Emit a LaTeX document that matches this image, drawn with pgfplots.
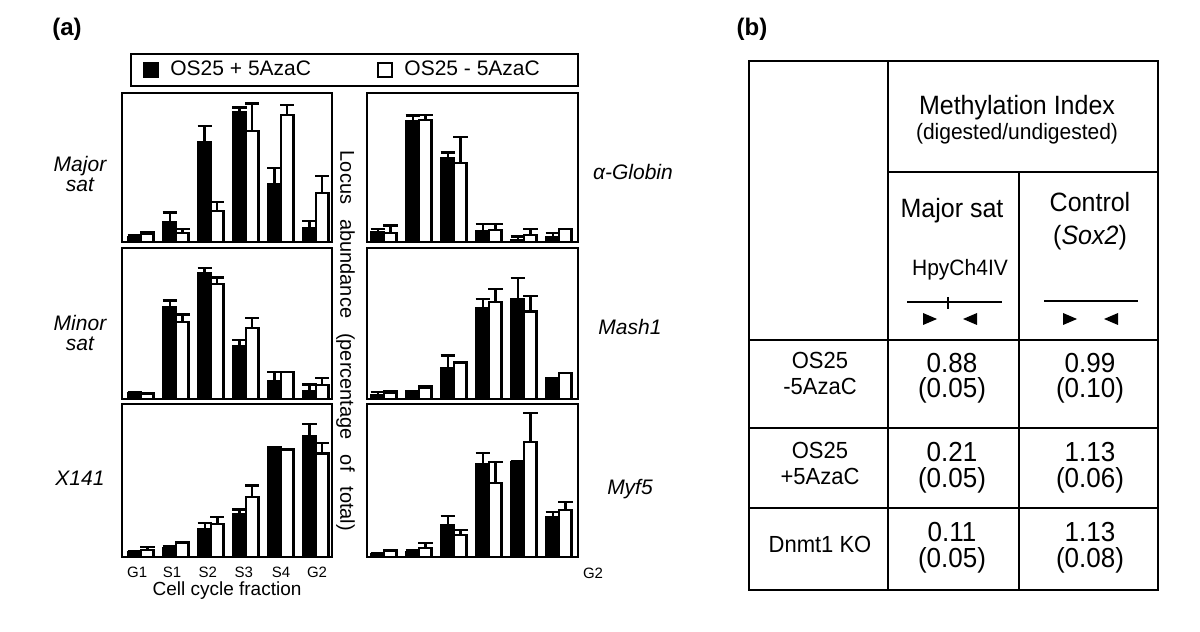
\documentclass[border=0pt]{standalone}
\usepackage{fontspec}
\setmainfont{Liberation Sans}
\usepackage{graphicx}
\usepackage{pgfplots}
\pgfplotsset{compat=1.18}
\newcommand{\fs}[1]{\fontsize{#1}{#1}\selectfont}
\newcommand{\tall}[1]{\scalebox{1}[1.06]{#1}}
\pgfplotsset{
  panel/.style={scale only axis, anchor=south west, ymin=0, xtick=\empty, ytick=\empty,
    axis line style={line width=1.4pt}, ybar, bar width=0.36, bar shift=0pt,
    error bars/y dir=plus, error bars/y explicit,
    error bars/error bar style={line width=1.2pt, black},
    error bars/error mark options={rotate=90, line width=1.2pt, mark size=3.6pt, black},
    /pgf/number format/assume math mode=true},
  leftcol/.style={panel, width=105pt, xmin=-0.543, xmax=5.457},
  rightcol/.style={panel, width=105.5pt, xmin=-0.486, xmax=5.543},
  blk/.style={fill=black, draw=black, line width=1pt},
  wht/.style={fill=white, draw=black, line width=1.2pt},
}
\begin{document}
\begin{tikzpicture}
\path[use as bounding box] (0,0) rectangle (600pt,316pt);

% ---- row 1 left: Major sat
\begin{axis}[leftcol, at={(61pt,195pt)}, height=74.5pt, ymax=149,
  legend columns=2,
  legend style={draw=none, fill=none, inner sep=0pt, font=\fs{10.5},
    at={(0.1,1.154)}, anchor=west,
    /tikz/every odd column/.append style={column sep=3.5pt},
    /tikz/every even column/.append style={column sep=31pt}},
  legend image code/.code={\draw[#1] (0pt,-3.5pt) rectangle (7pt,3.5pt);}]
\addplot[blk] coordinates {(-0.18,5) +- (0,1.5) (0.82,20) +- (0,9.5) (1.82,100) +- (0,16) (2.82,130) +- (0,4.5) (3.82,58) +- (0,16) (4.82,14) +- (0,7)};
\addlegendentry{OS25 + 5AzaC}
\addplot[wht] coordinates {(0.18,8) +- (0,2) (1.18,9) +- (0,4) (2.18,31) +- (0,9) (3.18,111) +- (0,27.5) (4.18,127) +- (0,10) (5.18,49) +- (0,17)};
\addlegendentry{OS25 - 5AzaC}
\end{axis}

% ---- row 2 left: Minor sat
\begin{axis}[leftcol, at={(61pt,116.5pt)}, height=75.5pt, ymax=151]
\addplot[blk] coordinates {(-0.18,6) +- (0,0.5) (0.82,92) +- (0,6.5) (1.82,126) +- (0,5) (2.82,53) +- (0,6) (3.82,18) +- (0,9) (4.82,8) +- (0,6.5)};
\addplot[wht] coordinates {(0.18,5) +- (0,0.5) (1.18,77) +- (0,7.5) (2.18,115) +- (0,6.5) (3.18,71) +- (0,10) (4.18,27) +- (0,0) (5.18,14) +- (0,7)};
\end{axis}

% ---- row 3 left: X141
\begin{axis}[leftcol, at={(61pt,37.5pt)}, height=76.5pt, ymax=153,
  xtick={-0.11,0.89,1.91,2.94,4,5.03}, xticklabels={G1,S1,S2,S3,S4,G2},
  major tick length=0pt, xticklabel style={font=\fs{7.5}, yshift=-1.5pt}]
\addplot[blk] coordinates {(-0.18,5) +- (0,1) (0.82,9) +- (0,2) (1.82,28) +- (0,6) (2.82,43) +- (0,4.5) (3.82,108.7) +- (0,1.5) (4.82,121.3) +- (0,11.5)};
\addplot[wht] coordinates {(0.18,7) +- (0,3) (1.18,14) +- (0,0.5) (2.18,33) +- (0,7) (3.18,60) +- (0,11.5) (4.18,107.7) +- (0,0) (5.18,103.7) +- (0,10.5)};
\end{axis}

% ---- row 1 right: alpha-Globin
\begin{axis}[rightcol, at={(183.5pt,195pt)}, height=74.5pt, ymax=149]
\addplot[blk] coordinates {(-0.18,9.7) +- (0,3) (0.82,121) +- (0,5.3) (1.82,84.3) +- (0,5) (2.82,11.3) +- (0,6.7) (3.82,2) +- (0,3.3) (4.82,5.3) +- (0,3.4)};
\addplot[wht] coordinates {(0.18,8.7) +- (0,7.6) (1.18,122) +- (0,5) (2.18,78.7) +- (0,26) (3.18,12) +- (0,5.7) (4.18,7) +- (0,6) (5.18,12.7) +- (0,0)};
\end{axis}

% ---- row 2 right: Mash1
\begin{axis}[rightcol, at={(183.5pt,116.5pt)}, height=75.5pt, ymax=151]
\addplot[blk] coordinates {(-0.18,4) +- (0,3) (0.82,8) +- (0,0) (1.82,30.7) +- (0,12.6) (2.82,90.7) +- (0,9) (3.82,99.7) +- (0,21) (4.82,20.7) +- (0,0)};
\addplot[wht] coordinates {(0.18,5.7) +- (0,2.3) (1.18,10.7) +- (0,2.3) (2.18,36.3) +- (0,0) (3.18,96.7) +- (0,13) (4.18,87.3) +- (0,15.7) (5.18,25.7) +- (0,0)};
\end{axis}

% ---- row 3 right: Myf5
\begin{axis}[rightcol, at={(183.5pt,37.5pt)}, height=76.5pt, ymax=153]
\addplot[blk] coordinates {(-0.18,3) +- (0,0.5) (0.82,5) +- (0,2) (1.82,32) +- (0,9) (2.82,92.7) +- (0,11.6) (3.82,95.3) +- (0,0) (4.82,40) +- (0,5)};
\addplot[wht] coordinates {(0.18,6) +- (0,1) (1.18,9) +- (0,5) (2.18,22) +- (0,5) (3.18,73.7) +- (0,21) (4.18,114.7) +- (0,29) (5.18,47) +- (0,8)};
\end{axis}

\begin{scope}[x=0.5pt,y=-0.5pt,shift={(0,316pt)}]
% legend frame
\draw[line width=1.3pt] (131,54) rectangle (578,86);
% panel labels
\node[font=\fs{12}\bfseries] at (67,29) {(a)};
\node[font=\fs{12}\bfseries] at (752,29) {(b)};
% row labels
\node[font=\fontsize{10.5}{10}\selectfont\itshape, align=center] at (80,174) {Major\\sat};
\node[font=\fontsize{10.5}{10}\selectfont\itshape, align=center] at (80,333) {Minor\\sat};
\node[font=\fs{10.5}\itshape] at (80,478) {X141};
\node[font=\fs{10.5}\itshape] at (633,172) {α-Globin};
\node[font=\fs{10.5}\itshape] at (630,327) {Mash1};
\node[font=\fs{10.5}\itshape] at (630,489) {Myf5};
% axis titles
\node[font=\fs{10}, rotate=-90] at (345.5,341) {Locus\hspace{0.75em}abundance\hspace{0.75em}(percentage\hspace{0.75em}of\hspace{0.75em}total)};
\node[font=\fs{9.5}] at (227,591) {Cell cycle fraction};
\node[font=\fs{7.5}] at (593,573) {G2};

% ---- table (b)
\draw[line width=1.3pt] (749,61) rectangle (1158,590);
\draw[line width=1.3pt] (888,61) -- (888,590);
\draw[line width=1.3pt] (1019,172) -- (1019,590);
\draw[line width=1.3pt] (888,172) -- (1158,172);
\draw[line width=1.3pt] (749,340) -- (1158,340);
\draw[line width=1.3pt] (749,428) -- (1158,428);
\draw[line width=1.3pt] (749,508) -- (1158,508);

\node[font=\fs{12.5}, anchor=base] at (1017,115) {\tall{Methylation Index}};
\node[font=\fs{10.5}, anchor=base] at (1017,140) {\tall{(digested/undigested)}};
\node[font=\fs{12.5}, anchor=base] at (952,218) {\tall{Major sat}};
\node[font=\fs{10.5}, anchor=base] at (960,276) {\tall{HpyCh4IV}};
\node[font=\fs{12.5}, anchor=base] at (1090,212) {\tall{Control}};
\node[font=\fs{12.5}, anchor=base] at (1090,245) {\tall{(\textit{Sox2})}};
% restriction maps
\draw[line width=0.6pt] (907,302) -- (1002,302);
\draw[line width=0.6pt] (948,297) -- (948,309);
\fill (923,313) -- (937,319) -- (923,325) -- cycle;
\fill (977,313) -- (963,319) -- (977,325) -- cycle;
\draw[line width=0.6pt] (1044,301) -- (1138,301);
\fill (1063,313) -- (1077,319) -- (1063,325) -- cycle;
\fill (1118,313) -- (1104,319) -- (1118,325) -- cycle;

% rows
\node[font=\fs{11}, anchor=base] at (820,369) {\tall{OS25}};
\node[font=\fs{11}, anchor=base] at (820,395) {\tall{-5AzaC}};
\node[font=\fs{13}, anchor=base] at (952,373) {\tall{0.88}};
\node[font=\fs{13}, anchor=base] at (952,398) {\tall{(0.05)}};
\node[font=\fs{13}, anchor=base] at (1090,373) {\tall{0.99}};
\node[font=\fs{13}, anchor=base] at (1090,398) {\tall{(0.10)}};

\node[font=\fs{11}, anchor=base] at (820,459) {\tall{OS25}};
\node[font=\fs{11}, anchor=base] at (820,485) {\tall{+5AzaC}};
\node[font=\fs{13}, anchor=base] at (952,462) {\tall{0.21}};
\node[font=\fs{13}, anchor=base] at (952,488) {\tall{(0.05)}};
\node[font=\fs{13}, anchor=base] at (1090,462) {\tall{1.13}};
\node[font=\fs{13}, anchor=base] at (1090,488) {\tall{(0.06)}};

\node[font=\fs{11}, anchor=base] at (820,553) {\tall{Dnmt1 KO}};
\node[font=\fs{13}, anchor=base] at (952,542) {\tall{0.11}};
\node[font=\fs{13}, anchor=base] at (952,568) {\tall{(0.05)}};
\node[font=\fs{13}, anchor=base] at (1090,542) {\tall{1.13}};
\node[font=\fs{13}, anchor=base] at (1090,568) {\tall{(0.08)}};
\end{scope}
\end{tikzpicture}
\end{document}
